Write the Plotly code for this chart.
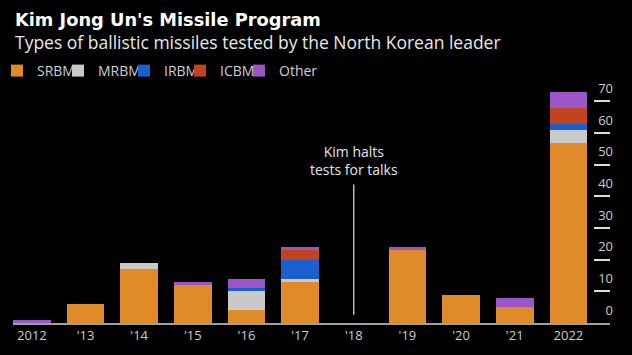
import plotly.graph_objects as go

years = ["2012", "'13", "'14", "'15", "'16", "'17", "'18", "'19", "'20", "'21", "2022"]
srbm = [0, 6, 17, 12, 4, 13, 0, 23, 9, 5, 57]
mrbm = [0, 0, 2, 0, 6, 1, 0, 0, 0, 0, 4]
irbm = [0, 0, 0, 0, 1, 6, 0, 0, 0, 0, 2]
icbm = [0, 0, 0, 0, 0, 3, 0, 0, 0, 0, 5]
other = [1, 0, 0, 1, 3, 1, 0, 1, 0, 3, 5]
y_ticks = [0, 10, 20, 30, 40, 50, 60, 70]

title = "Kim Jong Un's Missile Program"
subtitle = "Types of ballistic missiles tested by the North Korean leader"

series = [
    ("SRBM", srbm, "#e08b2a"),
    ("MRBM", mrbm, "#c9c9c9"),
    ("IRBM", irbm, "#1b5fcf"),
    ("ICBM", icbm, "#c2431f"),
    ("Other", other, "#9a55c6"),
]

FONT = "Open Sans"
L, R, T, B = 13, 22, 76, 32
PW = 632 - L - R
PH = 355 - T - B

def px_x(px):
    return (px - L) / PW

def px_y(py):
    return (355 - B - py) / PH

legend_names = ["legend", "legend2", "legend3", "legend4", "legend5"]
legend_px = [-3, 58, 124, 180, 239]

fig = go.Figure()
for (name, vals, col), lg in zip(series, legend_names):
    fig.add_trace(go.Bar(x=years, y=vals, name=name, legend=lg,
                         marker=dict(color=col, line=dict(width=0))))

halt_idx = years.index("'18")
fig.add_shape(type="line", xref="x", yref="y", x0=halt_idx, x1=halt_idx, y0=2.6, y1=43.7,
              line=dict(color="#e6e6e6", width=1.2))
fig.add_annotation(x=halt_idx, y=45.0, xref="x", yref="y", text="Kim halts<br>tests for talks",
                   showarrow=False, yanchor="bottom", xanchor="center",
                   font=dict(family=FONT, size=14, color="#e6e6e6"), align="center")

header = ("<span style='font-family:DejaVu Sans;font-size:17.8px;color:#ffffff'><b>" + title + "</b></span>"
          "<br><span style='font-size:17.5px'>" + subtitle + "</span>")
fig.add_annotation(x=px_x(13), y=px_y(6.5), xref="paper", yref="paper", xanchor="left", yanchor="top",
                   text=header, showarrow=False, align="left",
                   font=dict(family=FONT, size=17.8, color="#e8e8e8"))

legend_common = dict(orientation="h", y=px_y(71), xanchor="left", yanchor="middle",
                     font=dict(family=FONT, size=14, color="#cfcfcf"), itemwidth=30,
                     bgcolor="rgba(0,0,0,0)", borderwidth=0)
layout_legends = {}
for lg, p in zip(legend_names, legend_px):
    layout_legends[lg] = dict(legend_common, x=px_x(p))

fig.update_layout(
    width=632, height=355,
    margin=dict(l=L, r=R, t=T, b=B, autoexpand=False),
    paper_bgcolor="#000000", plot_bgcolor="#000000",
    barmode="stack", bargap=0.30,
    showlegend=True,
    font=dict(family=FONT, color="#cccccc"),
    xaxis=dict(type="category", range=[-0.352, 10.776], showgrid=False, zeroline=False,
               showline=True, linecolor="#a0a0a0", linewidth=1.5, ticks="",
               tickfont=dict(family=FONT, size=13, color="#cccccc"), fixedrange=True),
    yaxis=dict(side="right", range=[0, 78], tickvals=y_ticks, showgrid=False, zeroline=False,
               showline=False, ticks="inside", ticklen=16, tickwidth=1.5, tickcolor="#dddddd",
               ticklabelposition="inside top", ticklabelstandoff=-6, ticklabelshift=-3,
               tickfont=dict(family=FONT, size=13, color="#cccccc"), fixedrange=True),
    **layout_legends,
)

fig.write_html("out.html", config={"displayModeBar": False},
               post_script="document.body.style.margin='0';document.body.style.background='#000';")
